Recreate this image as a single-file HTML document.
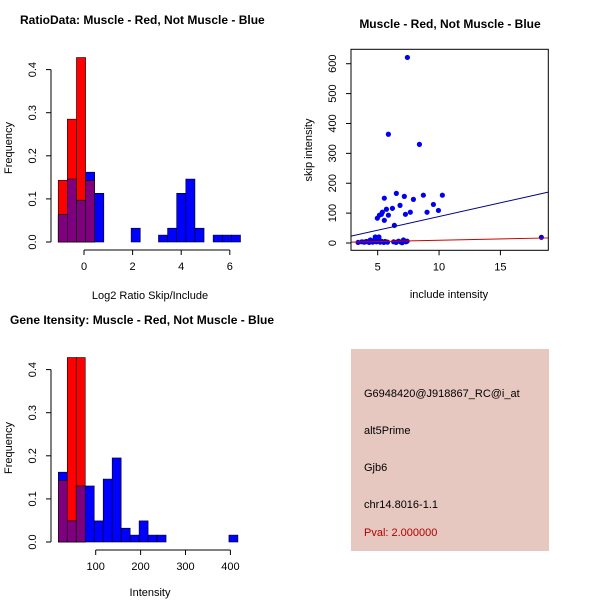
<!DOCTYPE html>
<html><head><meta charset="utf-8"><style>
body{margin:0;background:#fff}
svg{display:block;font-family:"Liberation Sans",sans-serif}
</style></head><body>
<svg id="c" width="600" height="600" viewBox="0 0 600 600"></svg>
<script>
// Ratio histogram data
const ratioBinStart = -1.06;
const ratioBinWidth = 0.375;
const ratioBlue = [0.064,0.146,0.097,0.162,0.113,0,0,0,0.032,0,0,0.016,0.032,0.113,0.146,0.032,0,0.016,0.016,0.016];
const ratioRed = [0.143,0.285,0.428,0.143];
const ratioXTicks = [0,2,4,6];
const freqTicks = [0,0.1,0.2,0.3,0.4];
// Intensity histogram data
const intBinStart = 16.7;
const intBinWidth = 20;
const intBlue = [0.162,0.049,0.130,0.130,0.049,0.146,0.195,0.032,0.016,0.049,0.016,0.016,0,0,0,0,0,0,0,0.016];
const intRed = [0.143,0.428,0.428];
const intXTicks = [100,200,300,400];
// Scatter data
const scatX = [7.42,5.87,8.40,6.52,5.54,7.17,7.91,8.72,10.27,6.82,6.20,5.71,9.54,9.95,9.02,7.66,7.26,5.87,4.97,5.14,5.30,5.38,5.54,6.36,18.34,
 3.4,3.7,3.9,4.1,4.3,4.5,4.6,4.7,4.8,4.9,5.0,5.1,5.2,5.3,5.5,5.6,5.8,6.3,6.5,6.7,6.9,7.0,7.1,7.3,7.4,4.8,5.1,4.4,4.0];
const scatY = [621,364,330,166,150,156,146,160,160,126,116,113,129,109,103,103,96,93,83,93,96,103,76,59,19,
 2,4,3,5,2,6,3,8,20,4,12,20,3,6,2,5,3,4,2,6,3,1,10,4,6,14,8,10,4];
const blueFit = [-3,9.17];
const redFit = [0.5,0.87];
const scatXTicks = [5,10,15];
const scatYTicks = [0,100,200,300,400,500,600];

const NS="http://www.w3.org/2000/svg";
const svg=document.getElementById('c');
function mk(tag,attrs,parent){const e=document.createElementNS(NS,tag);for(const k in attrs)e.setAttribute(k,attrs[k]);(parent||svg).appendChild(e);return e;}
function txt(s,x,y,size,opts,parent){const t=mk('text',Object.assign({x:x,y:y,'font-size':size,'text-anchor':'middle',fill:'#000'},opts||{}),parent);t.textContent=s;return t;}

function hist(g,x0px,pxPerUnit,y0,pxPerFreq,binStart,binW,blue,red,xTicks,xlab,xlabDy,title,titleX){
  const X=v=>x0px+(v)*pxPerUnit, Y=f=>y0-f*pxPerFreq;
  const n=Math.max(blue.length,red.length);
  for(let i=0;i<n;i++){
    const a=binStart+i*binW,b=a+binW;
    const bv=blue[i]||0,rv=red[i]||0;
    if(bv>0){const r=mk('rect',{x:X(a),y:Y(bv),width:X(b)-X(a),height:bv*pxPerFreq,fill:'#0000ff',stroke:'#000','stroke-width':0.6},g);
      
      }
    if(rv>0){const r=mk('rect',{x:X(a),y:Y(rv),width:X(b)-X(a),height:rv*pxPerFreq,fill:'#ff0000',stroke:'#000','stroke-width':0.6},g);
      
      }
    const m=Math.min(bv,rv);
    if(m>0){const r=mk('rect',{x:X(a),y:Y(m),width:X(b)-X(a),height:m*pxPerFreq,fill:'#7f007f',stroke:'#000','stroke-width':0.6},g);
      
      }
  }
  const ax=51;
  mk('line',{x1:ax,x2:ax,y1:Y(0),y2:Y(0.4),stroke:'#000'},g);
  freqTicks.forEach(f=>{mk('line',{x1:ax,x2:ax-5,y1:Y(f),y2:Y(f),stroke:'#000'},g);
    txt(f.toFixed(1),0,0,11,{transform:`translate(${ax-15},${Y(f)}) rotate(-90)`},g);});
  const ay=y0+8;
  mk('line',{x1:X(xTicks[0]),x2:X(xTicks[xTicks.length-1]),y1:ay,y2:ay,stroke:'#000'},g);
  xTicks.forEach(v=>{mk('line',{x1:X(v),x2:X(v),y1:ay,y2:ay+5,stroke:'#000'},g);txt(String(v),X(v),ay+20,11,{},g);});
  txt(xlab,150,y0+xlabDy,11,{},g);
  txt('Frequency',0,0,11,{transform:`translate(12,${y0-94}) rotate(-90)`},g);
  txt(title,titleX,y0-218,12,{'font-weight':'bold','text-anchor':'start'},g);
}
const g1=mk('g',{});
hist(g1,84,24.3,242,431,ratioBinStart,ratioBinWidth,ratioBlue,ratioRed,ratioXTicks,'Log2 Ratio Skip/Include',57,'RatioData: Muscle - Red, Not Muscle - Blue',20);
const g2=mk('g',{});
hist(g2,95.7-44.9,0.449,542,431,intBinStart,intBinWidth,intBlue,intRed,intXTicks,'Intensity',54,'Gene Itensity: Muscle - Red, Not Muscle - Blue',10);

const g3=mk('g',{});
const sx=v=>377.7+(v-5)*12.27, sy=v=>243-v*0.2988;
const L=351,R=548.3,T=49.3,B=250.3;
const cp=mk('clipPath',{id:'clp'},g3);
mk('rect',{x:L,y:T,width:R-L,height:B-T},cp);
scatX.forEach((x,i)=>{const c=mk('circle',{cx:sx(x),cy:sy(scatY[i]),r:2.6,fill:'#0000ee'},g3);
  
  });
const x1=2.82,x2=18.9;
const bl=mk('line',{x1:sx(x1),y1:sy(blueFit[0]+blueFit[1]*x1),x2:sx(x2),y2:sy(blueFit[0]+blueFit[1]*x2),stroke:'#000080','clip-path':'url(#clp)'},g3);


const rl=mk('line',{x1:sx(x1),y1:sy(redFit[0]+redFit[1]*x1),x2:sx(x2),y2:sy(redFit[0]+redFit[1]*x2),stroke:'#cc0000','clip-path':'url(#clp)'},g3);


mk('rect',{x:L,y:T,width:R-L,height:B-T,fill:'none',stroke:'#000'},g3);
scatXTicks.forEach(v=>{mk('line',{x1:sx(v),x2:sx(v),y1:B,y2:B+5,stroke:'#000'},g3);txt(String(v),sx(v),B+20,11,{},g3);});
scatYTicks.forEach(v=>{mk('line',{x1:L,x2:L-5,y1:sy(v),y2:sy(v),stroke:'#000'},g3);
  txt(String(v),0,0,11,{transform:`translate(${L-15},${sy(v)}) rotate(-90)`},g3);});
txt('include intensity',449,298,11,{},g3);
txt('skip intensity',0,0,11,{transform:'translate(312,150) rotate(-90)'},g3);
txt('Muscle - Red, Not Muscle - Blue',450,28,12,{'font-weight':'bold'},g3);
</script>
<svg style="position:absolute;left:0;top:0" width="600" height="600">
<g font-family="Liberation Sans, sans-serif" font-size="11">
<rect x="351" y="349" width="198" height="202" fill="#e6c8c0"/>
<text x="364" y="397">G6948420@J918867_RC@i_at</text>
<text x="364" y="434">alt5Prime</text>
<text x="364" y="471">Gjb6</text>
<text x="364" y="508">chr14.8016-1.1</text>
<text x="364" y="536" fill="#b00000">Pval: 2.000000</text>
</g></svg>
</body></html>
